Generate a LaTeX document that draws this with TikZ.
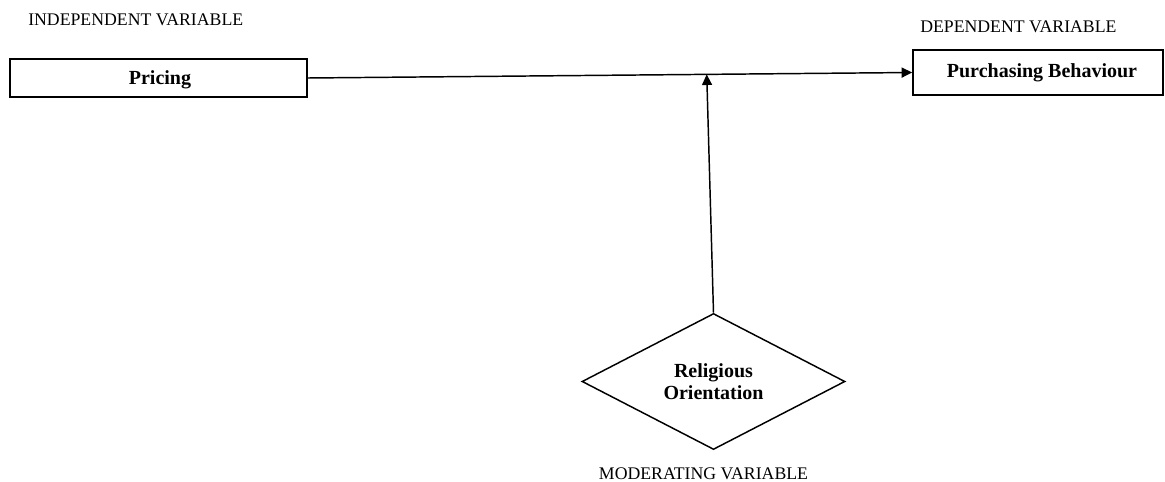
\documentclass[tikz,border=0pt]{standalone}
\usepackage{fontspec}
\setmainfont{Liberation Serif}
\usetikzlibrary{shapes.geometric,arrows.meta,calc}
\begin{document}
\begin{tikzpicture}[x=0.75pt,y=-0.75pt,
  varbox/.style={draw,line width=1.1pt,inner sep=0pt,font=\fontsize{15}{16.5}\selectfont\bfseries},
  lbl/.style={inner sep=0pt,font=\fontsize{13.3}{15}\selectfont},
  arr/.style={line width=1.1pt,-{Triangle[length=8pt,width=7.5pt]}}]
\useasboundingbox (0,0) rectangle (1165,482);
\node[varbox,minimum width=222.75pt,minimum height=28.5pt] (p) at (158.5,78) {};
\node[inner sep=0pt,font=\fontsize{15}{16.5}\selectfont\bfseries,anchor=base] (pt) at (160,84) {Pricing};
\node[varbox,minimum width=187.5pt,minimum height=33.75pt] (b) at (1038,72.5) {};
\node[inner sep=0pt,font=\fontsize{15}{16.5}\selectfont\bfseries,anchor=base] (bt) at (1042,77) {Purchasing Behaviour};
\node[varbox,shape=diamond,minimum width=197.25pt,minimum height=99.75pt,align=center] (r) at (713.5,381.5) {Religious\\Orientation};
\node[lbl,anchor=base west] (iv) at (28,25) {INDEPENDENT VARIABLE};
\node[lbl,anchor=base west] (dv) at (920,32) {DEPENDENT VARIABLE};
\node[lbl,anchor=base] (mv) at (703.5,479) {MODERATING VARIABLE};
\coordinate (m) at ($(p.east)!0.66!(b.west)$);
\draw[arr] (p.east) -- (b.west);
\draw[arr] (r.north) -- (m);
\end{tikzpicture}
\end{document}
